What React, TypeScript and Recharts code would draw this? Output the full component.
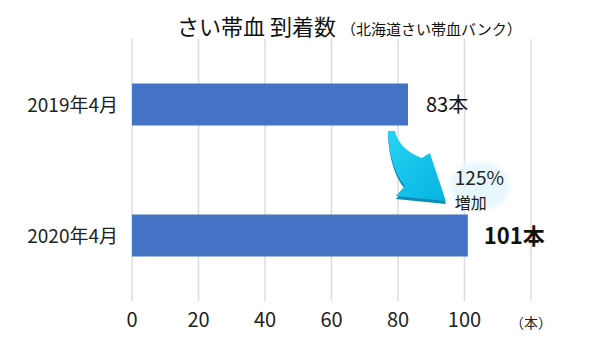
import React from "react";
import {
  BarChart,
  Bar,
  XAxis,
  YAxis,
  CartesianGrid,
  LabelList,
  ReferenceDot,
} from "recharts";

const categories = ["2019年4月", "2020年4月"];
const arrivals = [83, 101];
const xTicks = [0, 20, 40, 60, 80, 100, 120];
const unitLabel = "（本）";
const growthText = ["125%", "増加"];

const data = categories.map((c, i) => ({ month: c, count: arrivals[i] }));

const FONT = "'Noto Sans CJK JP', 'Noto Sans', sans-serif";

const XTick = (props: any) => {
  const { x, y, payload } = props;
  const isLast = payload.value === xTicks[xTicks.length - 1];
  return (
    <text
      x={x}
      y={y + (isLast ? 19 : 18)}
      textAnchor="middle"
      fontFamily={FONT}
      fontSize={isLast ? 14 : 20}
      fill="#222"
    >
      {isLast ? unitLabel : payload.value}
    </text>
  );
};

const YTick = (props: any) => {
  const { x, y, payload } = props;
  return (
    <text
      x={x - 6}
      y={y + 7}
      textAnchor="end"
      fontFamily={FONT}
      fontSize={19}
      fill="#222"
    >
      {payload.value}
    </text>
  );
};

const ValueLabel = (props: any) => {
  const { x, y, width, height, value, index } = props;
  const emphasize = index === arrivals.length - 1;
  return (
    <text
      x={x + width + (emphasize ? 16 : 18)}
      y={y + height / 2 + (emphasize ? 8 : 7)}
      fontFamily={FONT}
      fontSize={emphasize ? 22 : 20}
      fontWeight={emphasize ? 700 : 400}
      fill="#111"
    >
      {value}本
    </text>
  );
};

// Curved growth arrow and its caption, placed relative to the end of the latest bar
const GrowthArrow = (props: any) => {
  const { cx, cy } = props;
  const ox = cx - 468;
  const oy = cy - 235.5;
  const body =
    "M388,131 L395,131 Q400,150 422,158 L430,153 L446,201 L396,196 L405,186 Q390,168 388,131 Z";
  return (
    <g>
      <defs>
        <radialGradient id="glow" cx="50%" cy="50%" r="50%">
          <stop offset="0%" stopColor="#e3f5fc" stopOpacity={1} />
          <stop offset="75%" stopColor="#e8f7fc" stopOpacity={0.9} />
          <stop offset="100%" stopColor="#ffffff" stopOpacity={0} />
        </radialGradient>
        <linearGradient id="arrowFill" x1="0" y1="0" x2="1" y2="1">
          <stop offset="0%" stopColor="#27d4f4" />
          <stop offset="100%" stopColor="#06b2e0" />
        </linearGradient>
      </defs>
      <ellipse cx={480 + ox} cy={186 + oy} rx={36} ry={30} fill="url(#glow)" />
      <g transform={`translate(${ox},${oy})`}>
        <path d={body} fill="#0a8db5" transform="translate(0,3)" />
        <path d={body} fill="url(#arrowFill)" />
      </g>
      <text x={455 + ox} y={185 + oy} fontFamily={FONT} fontSize={19} fill="#222">
        {growthText[0]}
      </text>
      <text x={455 + ox} y={209 + oy} fontFamily={FONT} fontSize={16} fill="#222">
        {growthText[1]}
      </text>
    </g>
  );
};

export default function App() {
  return (
    <div
      style={{
        position: "absolute",
        left: 0,
        top: 0,
        width: 600,
        height: 338,
        background: "#fff",
        fontFamily: FONT,
      }}
    >
      <div
        style={{
          position: "absolute",
          left: 177,
          top: 9,
          whiteSpace: "nowrap",
          color: "#111",
          lineHeight: "32px",
        }}
      >
        <span style={{ fontSize: 22 }}>さい帯血 到着数</span>
        <span style={{ fontSize: 15, marginLeft: 5 }}>（北海道さい帯血バンク）</span>
      </div>
      <BarChart
        width={600}
        height={338}
        data={data}
        layout="vertical"
        margin={{ top: 39, right: 69, bottom: 7, left: 0 }}
        barCategoryGap="34%"
      >
        <CartesianGrid horizontal={false} stroke="#dcdcdc" strokeWidth={1.5} />
        <XAxis
          type="number"
          domain={[0, 120]}
          ticks={xTicks}
          axisLine={false}
          tickLine={false}
          tick={<XTick />}
          height={30}
          interval={0}
        />
        <YAxis
          type="category"
          dataKey="month"
          width={132}
          axisLine={false}
          tickLine={false}
          tick={<YTick />}
        />
        <Bar dataKey="count" fill="#4472c4" isAnimationActive={false}>
          <LabelList dataKey="count" content={<ValueLabel />} />
        </Bar>
        <ReferenceDot
          x={arrivals[1]}
          y={categories[1]}
          r={0}
          shape={<GrowthArrow />}
          ifOverflow="visible"
        />
      </BarChart>
    </div>
  );
}
